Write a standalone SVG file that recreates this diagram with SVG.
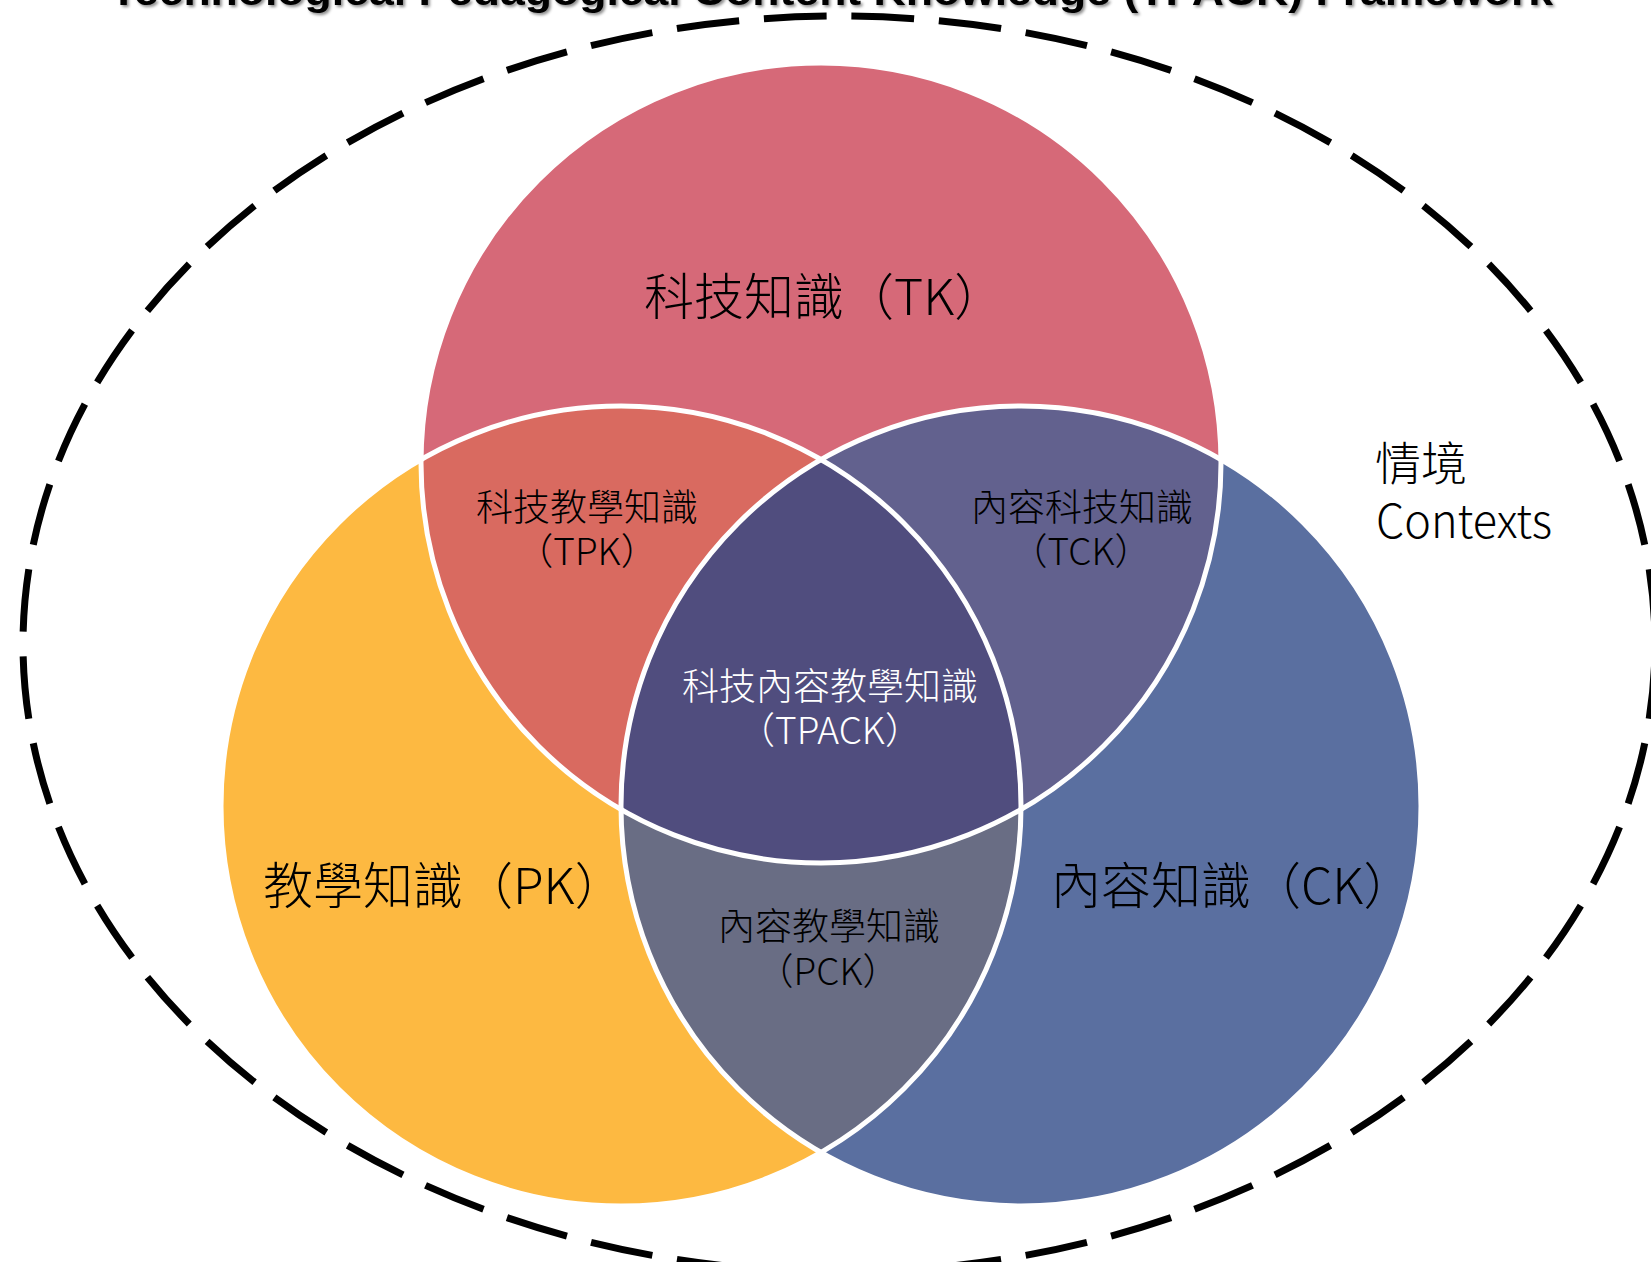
<svg xmlns="http://www.w3.org/2000/svg" width="1651" height="1262" viewBox="0 0 1651 1262">
<style>
.lbl{font-family:"Noto Sans CJK TC","Noto Sans CJK SC","Noto Sans",sans-serif;font-weight:300;fill:#000}
.big{font-size:50px}
.mid{font-size:37px}
.wt{fill:#fff}
.edge{fill:none;stroke:#fff;stroke-width:5}
.title{font-family:"Liberation Sans",Arial,sans-serif;font-weight:bold;font-size:40px;fill:#000}
</style>
<defs>
<clipPath id="cTK"><circle cx="821" cy="463" r="400"/></clipPath>
<clipPath id="cPK"><circle cx="621" cy="806" r="400"/></clipPath>
<filter id="sh" x="-5%" y="-50%" width="110%" height="200%"><feDropShadow dx="2" dy="2" stdDeviation="1.5" flood-color="#000" flood-opacity="0.45"/></filter>
</defs>
<rect width="1651" height="1262" fill="#fff"/>
<text class="title" x="110" y="5" textLength="1443" lengthAdjust="spacingAndGlyphs" filter="url(#sh)">Technological Pedagogical Content Knowledge (TPACK) Framework</text>
<g id="contexts">
<path d="M839 16 A816 628 0 1 1 839 1272 A816 628 0 1 1 839 16 Z" fill="none" stroke="#000" stroke-width="7" pathLength="4576" stroke-dasharray="63 25" stroke-dashoffset="75.5"/>
<text class="lbl" font-size="46"><tspan x="1375" y="480">情境</tspan><tspan x="1376" y="538" textLength="176" lengthAdjust="spacingAndGlyphs">Contexts</tspan></text>
</g>
<g id="TK"><circle cx="821" cy="463" r="400" fill="#D66978"/></g>
<g id="PK"><circle cx="621" cy="806" r="400" fill="#FDB941"/></g>
<g id="CK"><circle cx="1021" cy="806" r="400" fill="#5A6FA0"/></g>
<g id="TPK"><circle cx="621" cy="806" r="400" fill="#D96A60" clip-path="url(#cTK)"/></g>
<g id="TCK"><circle cx="1021" cy="806" r="400" fill="#62618E" clip-path="url(#cTK)"/></g>
<g id="PCK"><circle cx="1021" cy="806" r="400" fill="#696D84" clip-path="url(#cPK)"/></g>
<g id="TPACK"><g clip-path="url(#cTK)"><circle cx="1021" cy="806" r="400" fill="#504D7E" clip-path="url(#cPK)"/></g></g>
<g id="connectors">
<circle class="edge" cx="821" cy="463" r="400"/>
<circle class="edge" cx="621" cy="806" r="400"/>
<circle class="edge" cx="1021" cy="806" r="400"/>
</g>
<g id="labels">
<text class="lbl big" x="644" y="315">科技知識（TK）</text>
<text class="lbl big" x="263" y="904">教學知識（PK）</text>
<text class="lbl big" x="1051" y="904">內容知識（CK）</text>
<text class="lbl mid" text-anchor="middle"><tspan x="587" y="521">科技教學知識</tspan><tspan x="587" y="565">（TPK）</tspan></text>
<text class="lbl mid" text-anchor="middle"><tspan x="1082" y="521">內容科技知識</tspan><tspan x="1081" y="565">（TCK）</tspan></text>
<text class="lbl mid wt" text-anchor="middle"><tspan x="830" y="700">科技內容教學知識</tspan><tspan x="830" y="744">（TPACK）</tspan></text>
<text class="lbl mid" text-anchor="middle"><tspan x="829" y="940">內容教學知識</tspan><tspan x="828" y="985">（PCK）</tspan></text>
</g>
</svg>
